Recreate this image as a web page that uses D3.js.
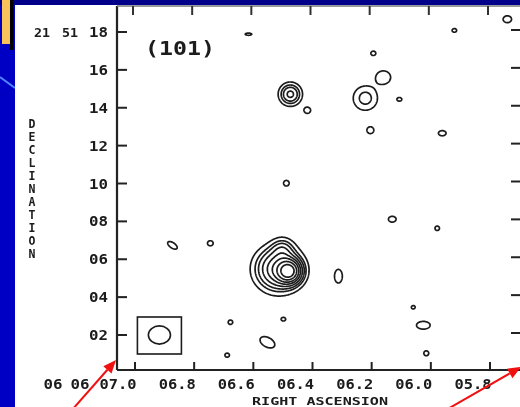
<!DOCTYPE html>
<html><head><meta charset="utf-8">
<script src="https://cdn.jsdelivr.net/npm/d3@7"></script>
<style>html,body{margin:0;padding:0;background:#0000c4;overflow:hidden}</style>
</head><body>
<svg id="c" width="520" height="407"></svg>
<script>
// ---- data ----
const raTickValues = [7.0, 6.8, 6.6, 6.4, 6.2, 6.0, 5.8];
const raTickLabels = ["07.0", "06.8", "06.6", "06.4", "06.2", "06.0", "05.8"];
const decTickValues = [18, 16, 14, 12, 10, 8, 6, 4, 2];
const decTickLabels = ["18", "16", "14", "12", "10", "08", "06", "04", "02"];
const raPrefix = ["06", "06"];
const decPrefix = ["21", "51"];
const fieldLabel = "(101)";
const contourLevels = [1, 2, 3, 4.5, 6.5, 9, 12.5, 17];
// source components (RA seconds, Dec arcsec, peak, sigma-major arcsec, sigma-minor arcsec, angle deg)
const srcRA   = [6.423, 6.458, 6.445, 6.4185, 6.361, 6.165, 6.104, 6.817, 6.256, 6.496, 5.969, 6.148, 5.905, 6.432, 5.685, 6.074, 5.959, 6.138, 6.050, 5.864, 6.560, 6.689, 6.621, 6.632, 5.922, 6.442, 6.003];
const srcDec  = [5.38, 5.50, 6.55, 14.73, 13.88, 14.52, 15.62, 6.75, 5.12, 1.63, 2.53, 12.83, 12.67, 10.03, 18.69, 8.13, 1.05, 16.89, 14.46, 18.10, 17.90, 6.86, 2.69, 0.95, 7.65, 2.85, 3.48];
const srcPeak = [16, 9, 2.5, 5, 1.5, 2.5, 1.7, 1.5, 1.6, 1.6, 1.6, 1.5, 1.5, 1.4, 1.5, 1.5, 1.4, 1.6, 1.6, 1.6, 1.6, 1.7, 1.6, 1.6, 1.6, 1.6, 1.5];
const srcSx   = [0.33, 0.64, 0.33, 0.32, 0.17, 0.42, 0.33, 0.30, 0.19, 0.40, 0.33, 0.18, 0.20, 0.16, 0.22, 0.20, 0.14, 0.12, 0.12, 0.11, 0.16, 0.13, 0.11, 0.11, 0.11, 0.11, 0.10];
const srcSy   = [0.37, 0.68, 0.37, 0.36, 0.18, 0.47, 0.33, 0.15, 0.37, 0.25, 0.21, 0.20, 0.15, 0.18, 0.20, 0.17, 0.16, 0.12, 0.10, 0.10, 0.06, 0.13, 0.12, 0.11, 0.12, 0.10, 0.10];
const srcAng  = [0, 0, 0, 0, 0, 0, 0, 40, 0, 35, 0, 0, 0, 0, 0, 0, 0, 0, 0, 0, 0, 0, 0, 0, 0, 0, 0];
const beamRA = 6.86, beamDec = 2.0, beamMajor = 0.52, beamMinor = 0.48;

// ---- scales ----
const svg = d3.select("#c");
const x = d3.scaleLinear().domain([7.0, 5.8]).range([118, 473]);
const y = d3.scaleLinear().domain([18, 2]).range([32, 335]);
const cosd = Math.cos(21.86 * Math.PI / 180);
const pxPerArcsecX = Math.abs(x(6.0) - x(7.0)) / (15 * cosd);
const pxPerArcsecY = Math.abs(y(1) - y(0));

// ---- slide background ----
svg.append("rect").attr("x",0).attr("y",0).attr("width",520).attr("height",407).attr("fill","#0000c4");
svg.append("rect").attr("x",0).attr("y",0).attr("width",520).attr("height",5).attr("fill","#00008a");
svg.append("rect").attr("x",10).attr("y",0).attr("width",3.5).attr("height",50).attr("fill","#000");
svg.append("rect").attr("x",2).attr("y",0).attr("width",8).attr("height",44).attr("fill","#f9c35c");
svg.append("line").attr("x1",0).attr("y1",77).attr("x2",15).attr("y2",88).attr("stroke","#4f86ff").attr("stroke-width",2);
svg.append("rect").attr("x",15).attr("y",5).attr("width",505).attr("height",402).attr("fill","#fff");

const defs = svg.append("defs");
defs.append("filter").attr("id","soft").append("feGaussianBlur").attr("stdDeviation",0.4);
defs.append("clipPath").attr("id","plotclip").append("rect").attr("x",118).attr("y",7).attr("width",402).attr("height",362);
const g = svg.append("g").attr("filter","url(#soft)");

// ---- contours ----
const nx = 700, ny = 640;
const ra0 = 7.06, ra1 = 5.56, dec0 = 19.6, dec1 = -0.3;
const vals = new Float64Array(nx * ny);
for (let k = 0; k < srcRA.length; k++) {
  const a = srcAng[k] * Math.PI / 180, ca = Math.cos(a), sa = Math.sin(a);
  const sx = srcSx[k], sy = srcSy[k], rmax = 5 * Math.max(sx, sy);
  for (let j = 0; j < ny; j++) {
    const dec = dec0 + (j / ny) * (dec1 - dec0);
    const dy = dec - srcDec[k];
    if (Math.abs(dy) > rmax) continue;
    for (let i = 0; i < nx; i++) {
      const ra = ra0 + (i / nx) * (ra1 - ra0);
      const dx = (ra - srcRA[k]) * 15 * cosd;
      if (Math.abs(dx) > rmax) continue;
      const u = dx * ca + dy * sa, v = -dx * sa + dy * ca;
      vals[j * nx + i] += srcPeak[k] * Math.exp(-(u * u / (2 * sx * sx) + v * v / (2 * sy * sy)));
    }
  }
}
const contours = d3.contours().size([nx, ny]).thresholds(contourLevels)(Array.from(vals));
const proj = d3.geoTransform({point: function(gx, gy) {
  this.stream.point(x(ra0 + gx / nx * (ra1 - ra0)), y(dec0 + gy / ny * (dec1 - dec0)));
}});
const path = d3.geoPath(proj);
g.append("g").attr("clip-path","url(#plotclip)").selectAll("path").data(contours).join("path")
  .attr("d", path).attr("fill","none").attr("stroke","#1c1c1c").attr("stroke-width",1.7).attr("stroke-linejoin","round");

// ---- beam box ----
const bx = x(beamRA), by = y(beamDec);
g.append("rect").attr("x", bx - 22).attr("y", by - 18).attr("width", 44).attr("height", 37)
  .attr("fill","none").attr("stroke","#1c1c1c").attr("stroke-width",1.6);
g.append("ellipse").attr("cx", bx).attr("cy", by)
  .attr("rx", beamMajor * pxPerArcsecX).attr("ry", beamMinor * pxPerArcsecY)
  .attr("fill","none").attr("stroke","#1c1c1c").attr("stroke-width",1.6);

// ---- frame & axes ----
const L = 117, T = 6, B = 370, R = 522;
g.append("line").attr("x1",L).attr("y1",T).attr("x2",L).attr("y2",B).attr("stroke","#222").attr("stroke-width",2.2);
g.append("line").attr("x1",L).attr("y1",B).attr("x2",R).attr("y2",B).attr("stroke","#222").attr("stroke-width",2);
g.append("line").attr("x1",L).attr("y1",T).attr("x2",R).attr("y2",T).attr("stroke","#777").attr("stroke-width",1.3);

const tickShift = 17;
g.selectAll(".bt").data(raTickValues).join("line")
  .attr("x1", d => x(d) + tickShift).attr("x2", d => x(d) + tickShift)
  .attr("y1", B).attr("y2", B - 8).attr("stroke","#222").attr("stroke-width",2);
g.selectAll(".tt").data(raTickValues).join("line")
  .attr("x1", d => x(d) + tickShift - 2).attr("x2", d => x(d) + tickShift - 2)
  .attr("y1", T).attr("y2", T + 9).attr("stroke","#333").attr("stroke-width",2);
g.selectAll(".lt").data(decTickValues).join("line")
  .attr("x1", L).attr("x2", L + 10).attr("y1", d => y(d)).attr("y2", d => y(d))
  .attr("stroke","#222").attr("stroke-width",2);
g.selectAll(".rt").data(decTickValues).join("line")
  .attr("x1", 520).attr("x2", 511).attr("y1", d => y(d) - 2).attr("y2", d => y(d) - 2)
  .attr("stroke","#222").attr("stroke-width",2);

const font = "'DejaVu Sans Mono', monospace";
g.selectAll(".rl").data(raTickValues).join("text")
  .attr("x", d => x(d)).attr("y", 389).attr("text-anchor","middle")
  .attr("font-family", font).attr("font-weight","bold").attr("font-size",14)
  .attr("textLength", 37).attr("lengthAdjust","spacingAndGlyphs")
  .attr("fill","#1a1a1a").text((d, i) => raTickLabels[i]);
g.selectAll(".rp").data(raPrefix).join("text")
  .attr("x", (d, i) => [53, 80][i]).attr("y", 389).attr("text-anchor","middle")
  .attr("font-family", font).attr("font-weight","bold").attr("font-size",14)
  .attr("textLength", 19).attr("lengthAdjust","spacingAndGlyphs")
  .attr("fill","#1a1a1a").text(d => d);
g.selectAll(".dl").data(decTickValues).join("text")
  .attr("x", 108).attr("y", d => y(d) + 5).attr("text-anchor","end")
  .attr("font-family", font).attr("font-weight","bold").attr("font-size",14)
  .attr("textLength", 19).attr("lengthAdjust","spacingAndGlyphs")
  .attr("fill","#1a1a1a").text((d, i) => decTickLabels[i]);
g.selectAll(".dp").data(decPrefix).join("text")
  .attr("x", (d, i) => [42, 70][i]).attr("y", y(18) + 5).attr("text-anchor","middle")
  .attr("font-family", font).attr("font-weight","bold").attr("font-size",13)
  .attr("textLength", 16).attr("lengthAdjust","spacingAndGlyphs")
  .attr("fill","#1a1a1a").text(d => d);

g.append("text").attr("x", 252).attr("y", 404.5)
  .attr("font-family", font).attr("font-weight","bold").attr("font-size",10.5)
  .attr("textLength", 136).attr("lengthAdjust","spacingAndGlyphs")
  .attr("fill","#1a1a1a").text("RIGHT ASCENSION");
g.selectAll(".dec").data("DECLINATION".split("")).join("text")
  .attr("x", 32).attr("y", (d, i) => 128 + i * 13).attr("text-anchor","middle")
  .attr("font-family", font).attr("font-weight","bold").attr("font-size",11.5)
  .attr("fill","#1a1a1a").text(d => d);
g.append("text").attr("x", 145).attr("y", 55)
  .attr("font-family", font).attr("font-weight","bold").attr("font-size",20)
  .attr("textLength", 70).attr("lengthAdjust","spacingAndGlyphs")
  .attr("fill","#1a1a1a").text(fieldLabel);

// ---- red arrows ----
const arrows = [[72, 410, 116, 360], [446, 410, 521, 367]];
arrows.forEach(([x1, y1, x2, y2]) => {
  const ang = Math.atan2(y2 - y1, x2 - x1), len = 13, w = 5.5;
  const bxp = x2 - len * Math.cos(ang), byp = y2 - len * Math.sin(ang);
  svg.append("line").attr("x1", x1).attr("y1", y1).attr("x2", bxp).attr("y2", byp)
    .attr("stroke","#f01010").attr("stroke-width",2);
  svg.append("path").attr("d", `M${x2},${y2}L${bxp - w * Math.sin(ang)},${byp + w * Math.cos(ang)}L${bxp + w * Math.sin(ang)},${byp - w * Math.cos(ang)}Z`)
    .attr("fill","#f01010");
});
</script>
</body></html>
